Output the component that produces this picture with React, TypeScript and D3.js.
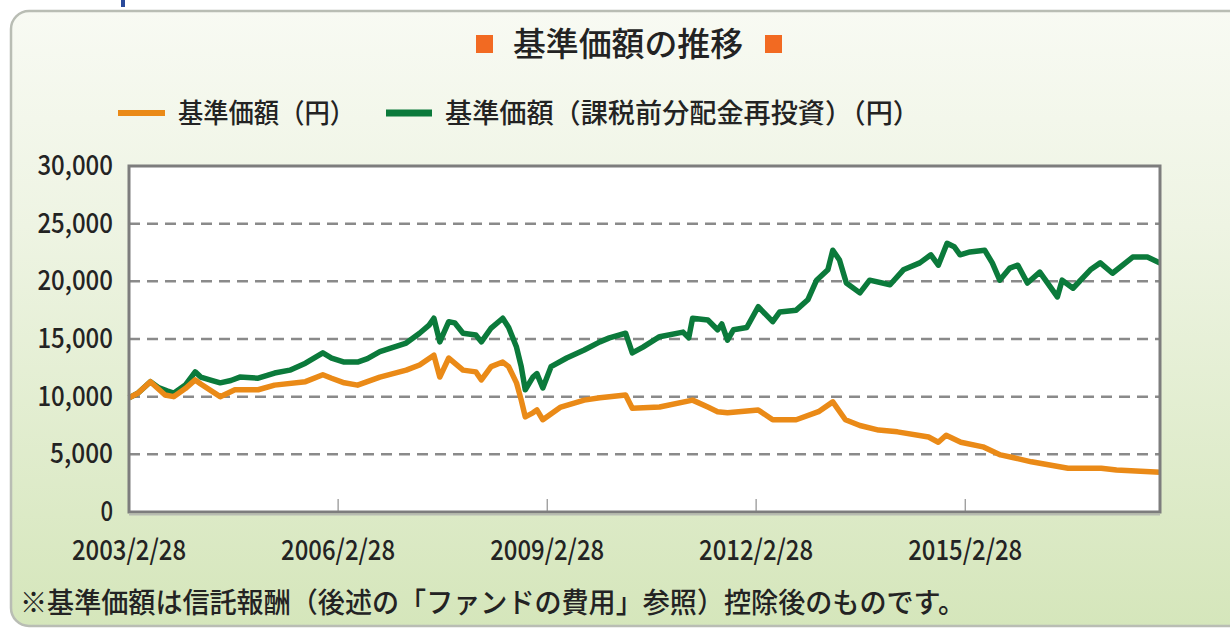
import React from "react";
import * as d3 from "d3";

const TITLE = "基準価額の推移";
const LEGEND_ORANGE = "基準価額（円）";
const LEGEND_GREEN = "基準価額（課税前分配金再投資）（円）";
const FOOTNOTE = "※基準価額は信託報酬（後述の「ファンドの費用」参照）控除後のものです。";

const X_START = "2003-02-28";
const X_END = "2017-12-15";
const X_TICKS = ["2003-02-28", "2006-02-28", "2009-02-28", "2012-02-28", "2015-02-28"];
const X_TICK_LABELS = ["2003/2/28", "2006/2/28", "2009/2/28", "2012/2/28", "2015/2/28"];
const Y_TICKS = [0, 5000, 10000, 15000, 20000, 25000, 30000];

const reinvestDates = [
  "2003-02-28","2003-04-15","2003-06-20","2003-08-01","2003-09-15","2003-10-20","2003-12-20",
  "2004-02-10","2004-03-10","2004-05-10","2004-06-20","2004-08-15","2004-10-01","2005-01-05",
  "2005-04-01","2005-06-20","2005-09-10","2005-12-10","2006-01-25","2006-04-01","2006-06-10",
  "2006-08-01","2006-10-05","2007-02-20","2007-05-01","2007-06-20","2007-07-15","2007-08-15",
  "2007-10-01","2007-11-01","2007-12-15","2008-02-20","2008-03-20","2008-05-10","2008-07-10",
  "2008-08-10","2008-09-20","2008-10-15","2008-11-05","2008-12-15","2009-01-05","2009-02-05",
  "2009-03-20","2009-06-10","2009-09-10","2009-12-01","2010-01-20","2010-04-15","2010-05-20",
  "2010-07-15","2010-10-10","2011-02-10","2011-03-12","2011-04-01","2011-06-20","2011-08-10",
  "2011-09-01","2011-10-01","2011-11-01","2012-01-10","2012-03-10","2012-05-25","2012-07-01",
  "2012-09-25","2012-11-25","2013-01-10","2013-03-10","2013-04-05","2013-05-10","2013-06-15",
  "2013-08-25","2013-10-15","2014-01-30","2014-04-10","2014-07-05","2014-09-01","2014-10-10",
  "2014-11-25","2015-01-01","2015-02-01","2015-03-25","2015-06-10","2015-07-20","2015-08-28",
  "2015-10-20","2015-12-01","2016-01-20","2016-03-25","2016-05-20","2016-06-25","2016-07-20",
  "2016-09-15","2016-12-15","2017-02-05","2017-04-10","2017-07-25","2017-10-10","2017-12-15"
];
const reinvestValues = [
  9900,10300,11300,10800,10500,10300,11000,
  12150,11700,11400,11200,11400,11700,11600,
  12050,12300,12900,13800,13350,13000,13000,
  13300,13900,14650,15500,16200,16800,14750,
  16500,16400,15500,15350,14750,15950,16800,
  16000,14300,12600,10600,11700,12000,10750,
  12600,13350,14050,14750,15100,15500,13800,
  14300,15200,15600,15100,16800,16650,15800,
  16300,14900,15800,16000,17800,16500,17350,
  17500,18400,20100,21000,22700,21850,19850,
  19000,20100,19700,21000,21600,22300,21400,
  23300,23000,22300,22550,22700,21600,20100,
  21150,21400,19850,20800,19500,18650,20100,
  19400,21000,21600,20700,22100,22100,21600
];

const navDates = [
  "2003-02-28","2003-04-15","2003-06-20","2003-09-05","2003-10-20","2003-12-20","2004-02-10",
  "2004-03-10","2004-06-20","2004-09-05","2005-01-05","2005-04-01","2005-09-10","2005-12-10",
  "2006-01-25","2006-04-01","2006-06-10","2006-10-05","2007-02-20","2007-05-01","2007-07-15",
  "2007-08-15","2007-10-01","2007-12-15","2008-02-20","2008-03-20","2008-05-10","2008-07-10",
  "2008-08-10","2008-09-20","2008-10-15","2008-11-05","2008-12-15","2009-01-05","2009-02-05",
  "2009-05-10","2009-09-10","2009-12-01","2010-01-20","2010-04-15","2010-05-20","2010-10-10",
  "2011-04-01","2011-06-20","2011-08-10","2011-10-01","2012-03-10","2012-05-25","2012-09-25",
  "2013-01-20","2013-04-05","2013-06-10","2013-08-25","2013-12-01","2014-03-10","2014-08-20",
  "2014-10-10","2014-11-20","2015-02-05","2015-06-01","2015-09-01","2015-11-10","2016-02-10",
  "2016-08-20","2017-02-10","2017-05-01","2017-12-15"
];
const navValues = [
  9900,10300,11300,10150,10000,10700,11450,
  11100,10000,10600,10600,11000,11300,11900,
  11600,11200,11000,11700,12300,12750,13600,
  11700,13350,12300,12150,11450,12600,13000,
  12600,11200,9700,8250,8600,8850,8000,
  9100,9700,9900,10000,10150,9000,9100,
  9700,9100,8700,8600,8850,8000,8000,
  8700,9550,8000,7500,7100,6950,6500,
  6050,6650,6050,5650,4950,4700,4350,
  3800,3800,3650,3450
];

const parse = d3.timeParse("%Y-%m-%d");
const FONT = "'Noto Sans CJK JP', 'Noto Sans', sans-serif";

export default function App() {
  const W = 1230, H = 630;
  const left = 129, right = 1160, top = 166, bottom = 512;
  const x = d3.scaleTime().domain([parse(X_START)!, parse(X_END)!]).range([left, right]);
  const y = d3.scaleLinear().domain([0, 30000]).range([bottom, top]);

  const reinvest = reinvestDates.map((d, i) => ({ d: parse(d)!, v: reinvestValues[i] }));
  const nav = navDates.map((d, i) => ({ d: parse(d)!, v: navValues[i] }));
  const line = d3.line<{ d: Date; v: number }>().x((p) => x(p.d)).y((p) => y(p.v));
  const fmt = d3.format(",");

  const textColor = "#232323";

  return (
    <svg width={W} height={H} style={{ position: "absolute", left: 0, top: 0 }} fontFamily={FONT}>
      <defs>
        <linearGradient id="bg" x1="0" y1="0" x2="0" y2="1">
          <stop offset="0" stopColor="#f8faf3" />
          <stop offset="0.35" stopColor="#eef4e3" />
          <stop offset="1" stopColor="#d5e6bb" />
        </linearGradient>
      </defs>
      <rect x={0} y={0} width={W} height={H} fill="#ffffff" />
      <rect x={121} y={0} width={4} height={7} fill="#2a4a9a" />
      <rect x={11} y={11} width={1240} height={615} rx={18} ry={18} fill="url(#bg)" stroke="#b9bdb4" strokeWidth={2.5} />

      {/* title */}
      <rect x={476} y={35} width={17} height={18} fill="#f26a22" />
      <rect x={765} y={35} width={17} height={18} fill="#f26a22" />
      <text x={628} y={56} textAnchor="middle" fontSize={33} fontWeight={500} fill={textColor} textLength={230} lengthAdjust="spacingAndGlyphs">{TITLE}</text>

      {/* legend */}
      <line x1={118} x2={165} y1={113} y2={113} stroke="#ea8a17" strokeWidth={6} />
      <text x={178} y={123} fontSize={27} fontWeight={500} fill={textColor} textLength={177} lengthAdjust="spacingAndGlyphs">{LEGEND_ORANGE}</text>
      <line x1={386} x2={432} y1={113} y2={113} stroke="#0b7a3b" strokeWidth={7} />
      <text x={445} y={123} fontSize={27} fontWeight={500} fill={textColor} textLength={475} lengthAdjust="spacingAndGlyphs">{LEGEND_GREEN}</text>

      {/* plot frame */}
      <rect x={left} y={top} width={right - left} height={bottom - top} fill="#ffffff" />

      {Y_TICKS.filter((t) => t > 0 && t < 30000).map((t) => (
        <line key={t} x1={left} x2={right} y1={y(t)} y2={y(t)} stroke="#8a8a8a" strokeWidth={2.5} strokeDasharray="11 7" />
      ))}
      {X_TICKS.slice(1).map((t) => (
        <line key={t} x1={x(parse(t)!)} x2={x(parse(t)!)} y1={bottom} y2={bottom - 13} stroke="#7a7a7a" strokeWidth={1} />
      ))}

      <path d={line(reinvest)!} fill="none" stroke="#0b7a3b" strokeWidth={5.5} strokeLinejoin="round" />
      <path d={line(nav)!} fill="none" stroke="#ea8a17" strokeWidth={5.5} strokeLinejoin="round" />

      <rect x={left} y={top} width={right - left} height={bottom - top} fill="none" stroke="#7d7d7d" strokeWidth={3} />
      <line x1={left} x2={right} y1={bottom + 2.5} y2={bottom + 2.5} stroke="#b8bcb2" strokeWidth={2} />

      {Y_TICKS.map((t) => (
        <text key={t} x={113} y={y(t) + 9} textAnchor="end" fontSize={27} fontWeight={500} fill={textColor}
          textLength={fmt(t).length * 12.6} lengthAdjust="spacingAndGlyphs">{fmt(t)}</text>
      ))}
      {X_TICK_LABELS.map((label, i) => (
        <text key={label} x={x(parse(X_TICKS[i])!)} y={560} textAnchor="middle" fontSize={28} fontWeight={500} fill={textColor}
          textLength={114} lengthAdjust="spacingAndGlyphs">{label}</text>
      ))}

      <text x={20} y={613} fontSize={28} fontWeight={500} fill={textColor} textLength={945} lengthAdjust="spacingAndGlyphs">{FOOTNOTE}</text>
    </svg>
  );
}
